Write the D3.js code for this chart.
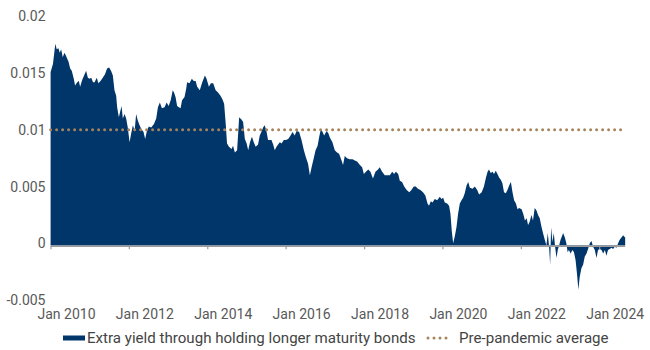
<!DOCTYPE html>
<html>
<head>
<meta charset="utf-8">
<script src="https://cdn.jsdelivr.net/npm/d3@7"></script>
<style>
  html, body { margin: 0; padding: 0; background: #ffffff; }
  svg { display: block; }
  text { font-family: Roboto, "Noto Sans", sans-serif; }
</style>
</head>
<body>
<svg id="chart" width="650" height="350"></svg>
<script>
// Term spread: extra yield from holding longer-maturity bonds
const dates = [
  "2010-01-02","2010-01-24","2010-02-15","2010-02-28","2010-03-16","2010-03-28","2010-04-10","2010-04-25",
  "2010-05-11","2010-05-26","2010-06-18","2010-07-03","2010-07-18","2010-08-06","2010-08-18","2010-09-07",
  "2010-09-22","2010-10-04","2010-10-23","2010-11-15","2010-11-29","2010-12-15",
  "2011-01-01","2011-01-16","2011-02-01","2011-02-16","2011-03-08","2011-03-23","2011-04-12","2011-05-03",
  "2011-05-24","2011-06-12","2011-07-01","2011-07-19","2011-08-05","2011-08-20","2011-09-05","2011-09-14",
  "2011-09-30","2011-10-15","2011-10-25","2011-11-06","2011-11-22","2011-12-07","2011-12-22",
  "2012-01-08","2012-01-23","2012-02-08","2012-02-24","2012-03-09","2012-03-25","2012-04-10","2012-04-25",
  "2012-05-17","2012-06-01","2012-06-17","2012-07-05","2012-07-27","2012-08-21","2012-09-12","2012-09-28",
  "2012-10-16","2012-11-04","2012-11-29","2012-12-18",
  "2013-01-06","2013-01-25","2013-02-13","2013-02-25","2013-03-11","2013-03-26","2013-04-11","2013-04-27",
  "2013-05-11","2013-06-03","2013-06-18","2013-06-27","2013-07-19","2013-08-10","2013-08-28","2013-09-14",
  "2013-09-29","2013-10-23","2013-11-15","2013-12-10","2013-12-25",
  "2014-01-16","2014-02-04","2014-02-25","2014-03-20","2014-04-11","2014-05-04","2014-05-22","2014-06-07",
  "2014-06-22","2014-07-04","2014-07-22","2014-08-15","2014-08-29","2014-09-15","2014-10-06","2014-10-25",
  "2014-11-17","2014-12-01","2014-12-17",
  "2015-01-03","2015-01-17","2015-02-03","2015-02-21","2015-03-10","2015-03-28","2015-04-19","2015-05-05",
  "2015-05-20","2015-06-05","2015-06-20","2015-07-06","2015-07-21","2015-08-06","2015-08-22","2015-09-07",
  "2015-09-22","2015-10-08","2015-10-23","2015-11-08","2015-11-24","2015-12-15",
  "2016-01-03","2016-01-25","2016-02-16","2016-03-05","2016-03-26","2016-04-12","2016-05-06","2016-05-28",
  "2016-06-19","2016-07-07","2016-07-28","2016-08-14","2016-08-30","2016-09-14","2016-10-06","2016-10-25",
  "2016-11-09","2016-11-25","2016-12-10","2016-12-25",
  "2017-01-17","2017-02-02","2017-02-17","2017-03-12","2017-04-03","2017-04-24","2017-05-13","2017-06-05",
  "2017-06-19","2017-07-05","2017-07-26","2017-08-21","2017-09-16","2017-10-07","2017-10-28","2017-11-23",
  "2017-12-14","2017-12-30",
  "2018-01-18","2018-02-09","2018-03-01","2018-03-25","2018-04-17","2018-05-11","2018-05-27","2018-06-18",
  "2018-07-13","2018-08-04","2018-08-29","2018-09-20","2018-10-08","2018-10-24","2018-11-15","2018-11-30",
  "2018-12-21",
  "2019-01-10","2019-02-02","2019-02-26","2019-03-18","2019-04-09","2019-04-27","2019-05-18","2019-06-10",
  "2019-07-04","2019-07-26","2019-08-15","2019-08-29","2019-09-15","2019-10-01","2019-10-22","2019-11-13",
  "2019-12-08","2019-12-23",
  "2020-01-08","2020-01-23","2020-02-14","2020-03-03","2020-03-16","2020-03-28","2020-04-10","2020-04-25",
  "2020-05-11","2020-05-26","2020-06-11","2020-06-27","2020-07-12","2020-07-27","2020-08-13","2020-08-28",
  "2020-09-13","2020-10-08","2020-10-29","2020-11-20","2020-12-08",
  "2021-01-01","2021-01-22","2021-02-10","2021-02-25","2021-03-10","2021-03-26","2021-04-12","2021-04-26",
  "2021-05-12","2021-05-28","2021-06-12","2021-06-28","2021-07-13","2021-07-28","2021-08-14","2021-08-29",
  "2021-09-14","2021-09-30","2021-10-15","2021-10-30","2021-11-16","2021-12-01","2021-12-16",
  "2022-01-08","2022-01-23","2022-02-08","2022-02-24","2022-03-09","2022-03-24","2022-04-10","2022-04-24",
  "2022-05-10","2022-05-26","2022-06-10","2022-06-26","2022-07-11","2022-07-26","2022-08-12","2022-08-27",
  "2022-09-09","2022-09-21","2022-10-01","2022-10-10","2022-10-22","2022-11-04","2022-11-16","2022-11-29",
  "2022-12-11","2022-12-23",
  "2023-01-06","2023-01-18","2023-01-30","2023-02-15","2023-03-01","2023-03-13","2023-03-25","2023-04-10",
  "2023-04-26","2023-05-11","2023-05-26","2023-06-08","2023-06-21","2023-07-03","2023-07-19","2023-08-04",
  "2023-08-19","2023-09-05","2023-09-19","2023-10-05","2023-10-21","2023-11-05","2023-11-21","2023-12-07",
  "2023-12-21",
  "2024-01-07","2024-01-23","2024-02-07","2024-02-23","2024-03-08","2024-03-23","2024-04-09","2024-04-25",
  "2024-05-09","2024-05-25","2024-06-10","2024-06-25","2024-07-10","2024-07-26","2024-08-11","2024-08-20",
  "2024-08-30"
];

const spread = [
  0.0153,0.0160,0.0178,0.0173,0.0174,0.0170,0.0173,0.0166,
  0.0170,0.0167,0.0162,0.0156,0.0154,0.0147,0.0141,0.0144,
  0.0145,0.0140,0.0146,0.0151,0.0154,0.0148,
  0.0147,0.0148,0.0144,0.0144,0.0148,0.0143,0.0145,0.0148,
  0.0151,0.0156,0.0157,0.0154,0.0150,0.0137,0.0132,0.0122,
  0.0113,0.0119,0.0123,0.0112,0.0116,0.0112,0.0104,
  0.0091,0.0099,0.0106,0.0101,0.0116,0.0110,0.0106,0.0103,
  0.0100,0.0094,0.0101,0.0105,0.0104,0.0107,0.0112,0.0122,
  0.0126,0.0121,0.0122,0.0126,
  0.0123,0.0128,0.0137,0.0135,0.0131,0.0123,0.0122,0.0121,
  0.0128,0.0131,0.0138,0.0144,0.0143,0.0147,0.0145,0.0145,
  0.0140,0.0137,0.0144,0.0150,0.0147,
  0.0140,0.0143,0.0143,0.0137,0.0135,0.0132,0.0129,0.0125,
  0.0107,0.0090,0.0087,0.0085,0.0088,0.0082,0.0084,0.0113,
  0.0111,0.0109,0.0094,
  0.0090,0.0084,0.0091,0.0096,0.0091,0.0087,0.0089,0.0097,
  0.0100,0.0104,0.0106,0.0101,0.0093,0.0093,0.0093,0.0089,
  0.0084,0.0087,0.0089,0.0091,0.0090,0.0093,
  0.0093,0.0094,0.0097,0.0100,0.0097,0.0101,0.0100,0.0093,
  0.0084,0.0078,0.0072,0.0062,0.0069,0.0075,0.0084,0.0088,
  0.0096,0.0103,0.0100,0.0097,
  0.0101,0.0099,0.0095,0.0091,0.0084,0.0082,0.0081,0.0075,
  0.0071,0.0079,0.0077,0.0076,0.0076,0.0075,0.0074,0.0071,
  0.0069,0.0063,
  0.0065,0.0067,0.0065,0.0059,0.0065,0.0067,0.0069,0.0065,
  0.0062,0.0062,0.0062,0.0065,0.0063,0.0065,0.0063,0.0057,
  0.0056,
  0.0052,0.0049,0.0047,0.0049,0.0052,0.0052,0.0050,0.0049,
  0.0047,0.0044,0.0037,0.0035,0.0039,0.0038,0.0041,0.0040,
  0.0043,0.0041,
  0.0042,0.0038,0.0037,0.0035,0.0028,0.0013,0.0002,0.0008,
  0.0016,0.0028,0.0037,0.0040,0.0042,0.0046,0.0053,0.0056,
  0.0051,0.0050,0.0052,0.0049,0.0045,
  0.0047,0.0052,0.0060,0.0065,0.0067,0.0064,0.0065,0.0063,
  0.0066,0.0063,0.0060,0.0058,0.0055,0.0047,0.0046,0.0049,
  0.0053,0.0056,0.0047,0.0040,0.0037,0.0032,0.0033,
  0.0032,0.0028,0.0022,0.0024,0.0018,0.0021,0.0027,0.0022,
  0.0033,0.0031,0.0027,0.0024,0.0017,0.0011,0.0005,0.0000,
  0.0011,-0.0001,-0.0017,0.0016,0.0003,0.0011,-0.0001,-0.0011,
  -0.0004,0.0000,
  0.0005,0.0008,0.0011,0.0007,0.0002,-0.0006,-0.0004,-0.0007,
  -0.0004,-0.0006,-0.0013,-0.0025,-0.0039,-0.0028,-0.0020,-0.0017,
  -0.0010,-0.0007,-0.0003,0.0002,0.0004,-0.0001,-0.0004,-0.0011,
  -0.0004,
  -0.0003,-0.0004,-0.0007,-0.0004,-0.0009,-0.0004,-0.0003,-0.0002,
  -0.0003,-0.0001,-0.0002,0.0002,0.0005,0.0007,0.0009,0.0008,
  0.0007
];

// Average spread over the years before the pandemic
const prePandemicAverage = 0.0102;

const yTicks = [-0.005, 0, 0.005, 0.01, 0.015, 0.02];
const yTickLabels = ["-0.005", "0", "0.005", "0.01", "0.015", "0.02"];
const xTickYears = [2010, 2012, 2014, 2016, 2018, 2020, 2022, 2024];
const xTickLabels = ["Jan 2010", "Jan 2012", "Jan 2014", "Jan 2016", "Jan 2018", "Jan 2020", "Jan 2022", "Jan 2024"];

const seriesName = "Extra yield through holding longer maturity bonds";
const averageName = "Pre-pandemic average";

const navy = "#00366a";
const tan = "#a8845c";
const labelGrey = "#595959";

const parse = d3.utcParse("%Y-%m-%d");
const data = dates.map((d, i) => ({ date: parse(d), value: spread[i] }));

const svg = d3.select("#chart");

// Jan 2010 sits at 50.5 px and Jan 2024 at 599.2 px
const x = d3.scaleUtc()
  .domain([Date.UTC(2010, 0, 1), Date.UTC(2024, 0, 1)])
  .range([50.5, 599.2]);

const y = d3.scaleLinear()
  .domain([-0.005, 0.02])
  .range([302.2, 18.7]);

// Filled spread area relative to zero
const area = d3.area()
  .x(d => x(d.date))
  .y0(y(0))
  .y1(d => y(d.value));

svg.append("path")
  .datum(data)
  .attr("fill", navy)
  .attr("d", area);

// Pre-pandemic average as a dotted reference line
const first = data[0].date, last = data[data.length - 1].date;
svg.append("line")
  .attr("x1", x(first)).attr("x2", x(last))
  .attr("y1", y(prePandemicAverage)).attr("y2", y(prePandemicAverage))
  .attr("stroke", tan)
  .attr("stroke-width", 3)
  .attr("stroke-linecap", "round")
  .attr("stroke-dasharray", "0 6");

// Horizontal axis drawn along zero, with small tick marks
const xAxis = d3.axisBottom(x)
  .tickValues(xTickYears.map(yr => new Date(Date.UTC(yr, 0, 1))))
  .tickSize(3)
  .tickSizeOuter(0)
  .tickFormat("");

const xAxisG = svg.append("g")
  .attr("transform", `translate(0,${y(0) + 0.8})`)
  .call(xAxis);
xAxisG.select(".domain")
  .attr("d", `M${x(first)},0H${x(last)}`)
  .attr("stroke", "#9a9a9a")
  .attr("stroke-width", 1.6);
xAxisG.selectAll(".tick line")
  .attr("stroke", "#9a9a9a")
  .attr("stroke-width", 1.2);

// Year labels along the bottom of the plot
svg.append("g")
  .selectAll("text")
  .data(xTickYears)
  .join("text")
  .attr("x", (yr) => x(new Date(Date.UTC(yr, 0, 1))) + 16)
  .attr("y", 314.5)
  .attr("dy", "0.35em")
  .attr("text-anchor", "middle")
  .attr("font-size", 14)
  .attr("fill", labelGrey)
  .text((yr, i) => xTickLabels[i]);

// Value labels on the left
svg.append("g")
  .selectAll("text")
  .data(yTicks)
  .join("text")
  .attr("x", 45.5)
  .attr("y", v => y(v) - 2.2)
  .attr("dy", "0.35em")
  .attr("text-anchor", "end")
  .attr("font-size", 14)
  .attr("fill", labelGrey)
  .text((v, i) => yTickLabels[i]);

// Legend
const legend = svg.append("g").attr("transform", "translate(0,338)");
legend.append("rect")
  .attr("x", 63).attr("y", -2.5)
  .attr("width", 22).attr("height", 5)
  .attr("fill", navy);
legend.append("text")
  .attr("x", 87).attr("y", 0).attr("dy", "0.35em")
  .attr("font-size", 15.1).attr("fill", "#444")
  .text(seriesName);
legend.append("line")
  .attr("x1", 428).attr("x2", 452)
  .attr("y1", 0).attr("y2", 0)
  .attr("stroke", tan)
  .attr("stroke-width", 3)
  .attr("stroke-linecap", "round")
  .attr("stroke-dasharray", "0 6");
legend.append("text")
  .attr("x", 459).attr("y", 0).attr("dy", "0.35em")
  .attr("font-size", 15.1).attr("fill", "#444")
  .text(averageName);
</script>
</body>
</html>
